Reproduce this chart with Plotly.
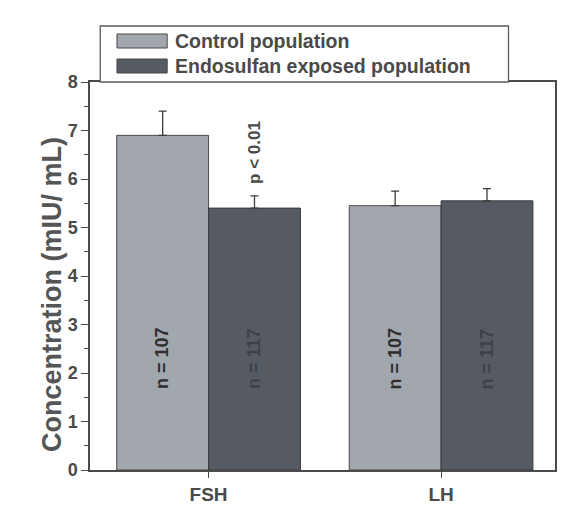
import plotly.graph_objects as go

# Hormone levels, mean and SD (mIU/mL)
hormones = ["FSH", "LH"]
control_mean = [6.9, 5.45]
control_sd = [0.5, 0.3]
exposed_mean = [5.4, 5.55]
exposed_sd = [0.25, 0.25]
control_n = ["n = 107", "n = 107"]
exposed_n = ["n = 117", "n = 117"]
n_label_level = 2.3

series_names = ["Control population", "Endosulfan exposed population"]
control_color = "#a2a6ad"
exposed_color = "#565a63"
ink = "#4a4a4a"
font_family = "Liberation Sans, Arial, sans-serif"

bar_gap = 0.21
half_offset = (1 - bar_gap) / 4  # centre of each bar relative to its category

fig = go.Figure()

err_style = dict(type="data", symmetric=False, color="#3c3c3c", thickness=1.3, width=4)
fig.add_trace(go.Bar(
    x=hormones, y=control_mean, name=series_names[0],
    marker=dict(color=control_color, line=dict(color="#4a4a4a", width=1)),
    error_y=dict(array=control_sd, arrayminus=[0, 0], **err_style),
    showlegend=False,
))
fig.add_trace(go.Bar(
    x=hormones, y=exposed_mean, name=series_names[1],
    marker=dict(color=exposed_color, line=dict(color="#3a3a3a", width=1)),
    error_y=dict(array=exposed_sd, arrayminus=[0, 0], **err_style),
    showlegend=False,
))

# sample sizes written up the bars
for i in range(len(hormones)):
    for sign, labels, col in ((-1, control_n, "#2e2e2e"), (1, exposed_n, "#3e4147")):
        fig.add_annotation(
            x=i + sign * half_offset, y=n_label_level, text=f"<b>{labels[i]}</b>",
            textangle=-90, showarrow=False,
            font=dict(size=18, color=col, family=font_family),
        )

# significance note above the exposed FSH bar
fig.add_annotation(
    x=0 + half_offset, y=exposed_mean[0] + exposed_sd[0], yanchor="bottom", yshift=10,
    text="<b>p < 0.01</b>", textangle=-90, showarrow=False,
    font=dict(size=17, color=ink, family=font_family),
)

# framed legend sitting on top of the plot area
plot_w, plot_h = 465.0, 388.0
box_x0, box_x1 = 0.022, 0.90
box_y0, box_y1 = 1.0, 1.0 + 56 / plot_h
fig.add_shape(type="rect", xref="paper", yref="paper",
              x0=box_x0, x1=box_x1, y0=box_y0, y1=box_y1,
              line=dict(color="#5a5a5a", width=1.3), fillcolor="white", layer="above")
rows = [(box_y1 - 15 / plot_h, control_color), (box_y1 - 40 / plot_h, exposed_color)]
for (yc, col), label in zip(rows, series_names):
    fig.add_shape(type="rect", xref="paper", yref="paper",
                  x0=0.058, x1=0.166, y0=yc - 7 / plot_h, y1=yc + 7 / plot_h,
                  line=dict(color="#4a4a4a", width=1), fillcolor=col, layer="above")
    fig.add_annotation(xref="paper", yref="paper", x=0.178, y=yc,
                       xanchor="left", yanchor="middle", showarrow=False,
                       text=f"<b>{label}</b>",
                       font=dict(size=19.5, color=ink, family=font_family))

# y-axis title
fig.add_annotation(
    xref="paper", yref="paper", x=-38 / plot_w, y=(470 - 295) / plot_h,
    xanchor="center", yanchor="middle",
    text="<b>Concentration (mIU/ mL)</b>", textangle=-90, showarrow=False,
    font=dict(size=27, color="#555555", family=font_family),
)

fig.update_layout(
    width=571, height=510,
    margin=dict(l=90, r=16, t=82, b=40),
    paper_bgcolor="white", plot_bgcolor="white",
    barmode="group", bargap=bar_gap, bargroupgap=0,
    font=dict(family=font_family, color=ink),
)
fig.update_xaxes(
    range=[-0.51, 1.49], automargin=False,
    showline=True, linecolor="#4a4a4a", linewidth=1.5, mirror=True,
    ticks="outside", ticklen=6, tickcolor="#4a4a4a",
    tickfont=dict(size=19, color=ink, family=font_family),
    tickvals=[0, 1], ticktext=["<b>FSH</b>", "<b>LH</b>"],
)
fig.update_yaxes(
    range=[0, 8], dtick=1, showgrid=False, zeroline=False, automargin=False,
    showline=True, linecolor="#4a4a4a", linewidth=1.5, mirror=True,
    ticks="outside", ticklen=7, tickcolor="#4a4a4a",
    minor=dict(dtick=0.5, ticks="outside", ticklen=4, tickcolor="#4a4a4a"),
    tickfont=dict(size=18, color=ink, family=font_family),
    tickprefix="<b>", ticksuffix="</b>",
)

fig.write_html("out.html")
